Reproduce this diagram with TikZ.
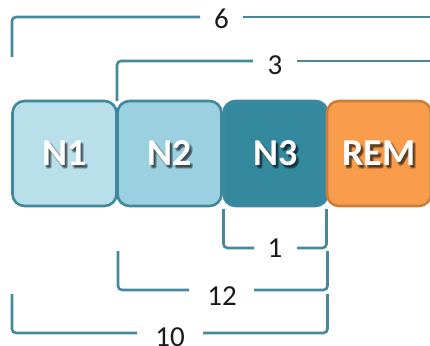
\documentclass[tikz,border=0pt]{standalone}
\usepackage{fontspec}
\setmainfont{Carlito}
\definecolor{edge}{HTML}{3C889D}
\definecolor{remedge}{HTML}{C97E3A}
\definecolor{fillA}{HTML}{B9DFEA}
\definecolor{fillB}{HTML}{9BD0E0}
\definecolor{fillC}{HTML}{35899F}
\definecolor{fillD}{HTML}{F99C4B}
\definecolor{linec}{HTML}{45899C}
\definecolor{numc}{HTML}{1A1A1A}
\begin{document}
\begin{tikzpicture}[x=1pt,y=-1pt,
  seg/.style={draw=linec, line width=2.6pt, rounded corners=4pt},
  cell/.style={line width=2.6pt, rounded corners=12pt, minimum width=104pt,
    minimum height=105pt, inner sep=0pt},
  lbl/.style={font=\bfseries\fontsize{38}{38}\selectfont, text=white, inner sep=0pt},
  lblshadow/.style={font=\bfseries\fontsize{38}{38}\selectfont, text=black,
    opacity=0.18, inner sep=0pt},
  num/.style={font=\fontsize{29}{29}\selectfont, text=numc, anchor=base, inner sep=0pt}]
\useasboundingbox (0,0) rectangle (430,345);

% the four cells with their shadowed white labels
\foreach \n/\t/\x/\f/\d in {n1/N1/64.5/fillA/edge, n2/N2/169.5/fillB/edge,
    n3/N3/275.5/fillC/edge, rem/REM/379/fillD/remedge} {
  \node[cell, fill=\f, draw=\d] (\n) at (\x,153.5) {};
  \foreach \dx/\dy [count=\k] in {1.5/1.5, 2.5/2.5, 2/3.2, 3.2/2, 3/3} {
    \node[lblshadow] (\n s\k) at ([shift={(\dx,\dy)}]\n.center) {\t};
  }
  \node[lbl] (\n t) at (\n.center) {\t};
}

% span labels
\node[num] (l6)  at (221.5,29)  {6};
\node[num] (l3)  at (275,74)    {3};
\node[num] (l1)  at (275,257.5) {1};
\node[num] (l12) at (222,305)   {12};
\node[num] (l10) at (170,346)   {10};

% bracket end points
\coordinate (a6)  at (12,57);   \coordinate (b6l) at (200,17);
\coordinate (b6r) at (243,17);  \coordinate (c6)  at (431,17);
\coordinate (a3)  at (117,101); \coordinate (b3l) at (253,61);
\coordinate (b3r) at (297,61);  \coordinate (c3)  at (431,61);
\coordinate (a1)  at (223.5,209); \coordinate (b1l) at (254,248);
\coordinate (b1r) at (297,248); \coordinate (c1)  at (326.5,209);
\coordinate (a12) at (118,251); \coordinate (b12l) at (189,290);
\coordinate (b12r) at (254,290); \coordinate (c12) at (327.5,251);
\coordinate (a10) at (12,294);  \coordinate (b10l) at (137,333);
\coordinate (b10r) at (203,333); \coordinate (c10) at (327.5,294);

% brackets above the cells
\draw[seg] (a6) |- (b6l);
\draw[seg] (b6r) -- (c6);
\draw[seg] (a3) |- (b3l);
\draw[seg] (b3r) -- (c3);

% brackets below the cells
\draw[seg] (a1) |- (b1l);
\draw[seg] (b1r) -| (c1);
\draw[seg] (a12) |- (b12l);
\draw[seg] (b12r) -| (c12);
\draw[seg] (a10) |- (b10l);
\draw[seg] (b10r) -| (c10);
\end{tikzpicture}
\end{document}
